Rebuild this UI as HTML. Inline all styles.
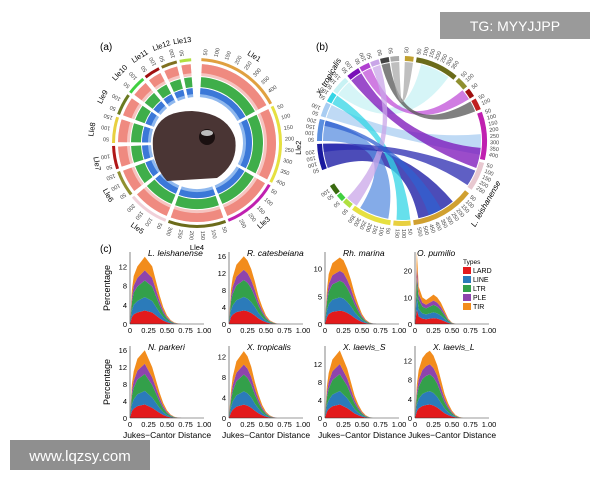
<!DOCTYPE html>
<html><head><meta charset="utf-8"><style>
html,body{margin:0;padding:0;background:#fff;}
svg{display:block;font-family:"Liberation Sans",sans-serif;}
</style></head><body>
<svg id="fig" width="600" height="480" viewBox="0 0 600 480">
<rect width="600" height="480" fill="#fff"/>
<text x="100" y="50" font-size="10">(a)</text>
<text x="316" y="50" font-size="10">(b)</text>
<text x="100" y="252" font-size="10">(c)</text>
<g id="circA"></g>
<g id="circB"></g>
<g id="charts"></g>
<rect x="440" y="12" width="150" height="27" fill="#9a9a9a"/>
<text x="515" y="31" font-size="14" fill="#fff" text-anchor="middle">TG: MYYJJPP</text>
<rect x="10" y="440" width="140" height="30" fill="#8f8f8f"/>
<text x="80" y="461" font-size="15" fill="#fff" text-anchor="middle">www.lqzsy.com</text>
</svg>
<script>
const titles=["L. leishanense","R. catesbeiana","Rh. marina","O. pumilio","N. parkeri","X. tropicalis","X. laevis_S","X. laevis_L"];
const yMaxes=[15,17,13,27,17,14,16,15];
const yTicks=[[0,4,8,12],[0,4,8,12,16],[0,5,10],[0,10,20],[0,4,8,12,16],[0,4,8,12],[0,4,8,12],[0,4,8,12]];
const xBins=[0,0.025,0.05,0.1,0.15,0.2,0.25,0.3,0.35,0.4,0.45,0.5,0.55,0.6,0.65,0.7,0.75];
const totals=[
[0,7,10,12,13,14,13,12,9,6,3.5,1.8,0.8,0.3,0.1,0,0],
[0,8,11,14,15,16,15,13,10,6.5,4,2,0.9,0.4,0.1,0,0],
[0,6,9,11,11.5,12,11.5,10,8,5.5,3.5,1.8,0.8,0.3,0.1,0,0],
[0,27,14,10,9,10,11,10,8,5,2,0.5,0,0,0,0,0],
[0,8,11,14,15,16,14,12,9,6,3.5,1.8,0.8,0.3,0.1,0,0],
[0,5,8,11,12,13,12,10,7,4.5,2.5,1.2,0.5,0.2,0,0,0],
[0,7,10,13,14,15,13,11,8,5,3,1.5,0.6,0.2,0,0,0],
[0,7,10,12.5,13.5,14,13,11,8,5,3,1.5,0.6,0.2,0,0,0]];
const typeNames=["LARD","LINE","LTR","PLE","TIR"];
const typeColors=["#e31a1c","#2b7bba","#33a04a","#8e44ad","#f28c1c"];
const typeShares=[0.2,0.2,0.25,0.15,0.2];
const xTickVals=[0,0.25,0.5,0.75,1];
const xTickLabels=["0","0.25","0.50","0.75","1.00"];
const NS="http://www.w3.org/2000/svg";
function mk(tag,attrs,parent){const e=document.createElementNS(NS,tag);for(const k in attrs)e.setAttribute(k,attrs[k]);parent.appendChild(e);return e;}
const charts=document.getElementById('charts');
const colX=[130,229,325,415], rowBase=[324,418], W=74, H=72;
titles.forEach((t,i)=>{
  const x0=colX[i%4], base=rowBase[Math.floor(i/4)], ym=yMaxes[i];
  const sx=v=>x0+v*W, sy=v=>base-v/ym*H;
  const g=mk('g',{},charts);
  
  
  let cum=xBins.map(()=>0);
  typeShares.forEach((s,k)=>{
    const lo=cum.slice(); cum=cum.map((c,j)=>c+totals[i][j]*s);
    let d='M'+xBins.map((b,j)=>sx(b)+','+sy(cum[j])).join('L');
    for(let j=xBins.length-1;j>=0;j--)d+='L'+sx(xBins[j])+','+sy(lo[j]);
    const p=mk('path',{d:d+'Z',fill:typeColors[k]},g);
    
    
  });
  mk('line',{x1:x0,y1:base,x2:x0+W,y2:base,stroke:'#333','stroke-width':0.6},g);
  mk('line',{x1:x0,y1:base,x2:x0,y2:base-H,stroke:'#333','stroke-width':0.6},g);
  xTickVals.forEach((v,j)=>{const tx=mk('text',{x:sx(v),y:base+9,'font-size':7.5,'text-anchor':'middle'},g);tx.textContent=xTickLabels[j];
    });
  yTicks[i].forEach(v=>{const tx=mk('text',{x:x0-3,y:sy(v)+3,'font-size':7.5,'text-anchor':'end'},g);tx.textContent=v;
    });
  const tt=mk('text',{x:x0+(i==3?2:18),y:base-H+4,'font-size':8.5,'font-style':'italic'},g);tt.textContent=t;
  
  if(i%4==0){const yl=mk('text',{x:0,y:0,'font-size':9,'text-anchor':'middle',transform:`translate(${x0-20},${base-H/2}) rotate(-90)`},g);yl.textContent='Percentage';
    }
  if(i>=4){const xl=mk('text',{x:x0+W/2,y:base+20,'font-size':8.5,'text-anchor':'middle'},g);xl.textContent='Jukes−Cantor Distance';
    }
});
const lg=mk('g',{},charts);


const lt=mk('text',{x:463,y:264,'font-size':6.5},lg);lt.textContent='Types';
typeNames.forEach((n,k)=>{
  const r=mk('rect',{x:463,y:267+k*9,width:8,height:7,fill:typeColors[k]},lg);
  
  const tx=mk('text',{x:473,y:273+k*9,'font-size':7},lg);tx.textContent=n;
  
});
// ---- circos helpers
const D=Math.PI/180;
function pt(cx,cy,r,a){return [cx+r*Math.sin(a*D),cy-r*Math.cos(a*D)];}
function arc(cx,cy,r1,r2,a0,a1){const [x1,y1]=pt(cx,cy,r2,a0),[x2,y2]=pt(cx,cy,r2,a1),[x3,y3]=pt(cx,cy,r1,a1),[x4,y4]=pt(cx,cy,r1,a0);const l=(a1-a0)>180?1:0;
  return `M${x1},${y1}A${r2},${r2} 0 ${l} 1 ${x2},${y2}L${x3},${y3}A${r1},${r1} 0 ${l} 0 ${x4},${y4}Z`;}
function tickNums(g,cx,cy,r,a0,a1,step){let n=50;for(let a=a0+step/2;a<a1;a+=step){const [x,y]=pt(cx,cy,r,a);
  const t=mk('text',{x:0,y:0,'font-size':5.5,fill:'#444','text-anchor':'start',transform:`translate(${x},${y}) rotate(${a-90})`},g);t.textContent=n;n+=50;
  }}
// ---- circos A
const chrA=[["Lle1",3,62,"#e0a040"],["Lle2",64,118,"#e6e040"],["Lle3",120,158,"#c020b0"],["Lle4",160,200,"#6b6b1a"],["Lle5",202,230,"#f0d0d8"],["Lle6",232,250,"#909030"],["Lle7",252,268,"#b01818"],["Lle8",270,288,"#e8d040"],["Lle9",290,305,"#6a7a20"],["Lle10",307,320,"#40d040"],["Lle11",322,333,"#a01010"],["Lle12",335,346,"#807020"],["Lle13",348,356,"#b0e040"]];
const gA=document.getElementById('circA');
const cxA=197,cyA=143;
chrA.forEach(([n,a0,a1,c])=>{
  const p=mk('path',{d:arc(cxA,cyA,82,85,a0,a1),fill:c},gA);
  const rings=[[67,79,'#f6c4c0'],[70,79,'#ef8a80'],[56,66,'#3fae4a'],[46,55,'#8fb8ee'],[49,55,'#3b78d8']];
  rings.forEach(([r1,r2,col])=>{const q=mk('path',{d:arc(cxA,cyA,r1,r2,a0+0.6,a1-0.6),fill:col},gA);});
  tickNums(gA,cxA,cyA,88,a0,a1,7);
  const [lx,ly]=pt(cxA,cyA,104,(a0+a1)/2);
  const lb=mk('text',{x:0,y:0,'font-size':7.5,'text-anchor':'middle',transform:`translate(${lx},${ly+3}) rotate(${((a0+a1)/2+90)%180-90})`},gA);lb.textContent=n;
  
});
const frog=mk('path',{d:`M${cxA-44},${cyA-5} Q${cxA-40},${cyA-32} ${cxA-5},${cyA-32} Q${cxA+30},${cyA-30} ${cxA+38},${cyA-5} Q${cxA+42},${cyA+20} ${cxA+20},${cyA+35} L${cxA-30},${cyA+38} Q${cxA-46},${cyA+20} ${cxA-44},${cyA-5}Z`,fill:'#4a3534'},gA);

const eye=mk('circle',{cx:cxA+10,cy:cyA-6,r:8,fill:'#1a1010'},gA);
const eye2=mk('ellipse',{cx:cxA+10,cy:cyA-10,rx:6,ry:3,fill:'#bbb'},gA);
// ---- circos B
const gB=document.getElementById('circB');
const cxB=402,cyB=141,rB=80;
const segB=[["Lle12",2,8,"#c0a030"],["Lle4",10,40,"#6b6b1a"],["Lle6",42,50,"#909030"],["Lle11",52,58,"#a01010"],["Lle7",60,68,"#c02020"],["Lle3",70,103,"#c020b0"],["Lle5",105,125,"#e8c8d0"],["Lle1",128,172,"#d0a030"],["Lle8",174,186,"#e8d040"],["Lle2",188,216,"#e6e040"],["Lle13",218,224,"#b0e040"],["Lle10",225,230,"#40d040"],["Lle9",231,238,"#3a6a10"],
["Xtr1",250,268,"#1a1a9e"],["Xtr2",270,285,"#5b8fe0"],["Xtr3",287,297,"#a9cdf2"],["Xtr4",298,305,"#33d6e6"],["Xtr5",306,318,"#c8f2f4"],["Xtr6",320,329,"#7a10b8"],["Xtr7",330,337,"#b040d0"],["Xtr8",338,344,"#c9a5e8"],["Xtr9",345,351,"#444"],["Xtr10",352,358,"#aaa"]];
segB.forEach(([n,a0,a1,c])=>{const p=mk('path',{d:arc(cxB,cyB,rB,rB+5,a0,a1),fill:c},gB);
  tickNums(gB,cxB,cyB,rB+8,a0,a1,4);});
const ribbons=[[250,268,140,168,"#1010a0"],[270,285,190,212,"#5b8fe0"],[287,297,85,100,"#a9cdf2"],[298,305,174,184,"#33d6e6"],[306,318,14,36,"#c8f2f4"],[320,329,95,110,"#7a10b8"],[330,337,50,58,"#c050d8"],[338,344,215,224,"#c9a5e8"],[345,351,60,68,"#555"],[352,358,2,8,"#aaa"],[262,268,112,124,"#2a2ab0"],[281,285,150,160,"#3060d0"]];
ribbons.forEach(([a0,a1,b0,b1,c])=>{const r=rB-1;const [x1,y1]=pt(cxB,cyB,r,a0),[x2,y2]=pt(cxB,cyB,r,a1),[x3,y3]=pt(cxB,cyB,r,b0),[x4,y4]=pt(cxB,cyB,r,b1);
  const d=`M${x1},${y1}A${r},${r} 0 0 1 ${x2},${y2}Q${cxB},${cyB} ${x3},${y3}A${r},${r} 0 0 1 ${x4},${y4}Q${cxB},${cyB} ${x1},${y1}Z`;
  const p=mk('path',{d:d,fill:c,opacity:0.75},gB);});
const xt=mk('text',{x:0,y:0,'font-size':8,'font-style':'italic','text-anchor':'middle',transform:`translate(331,78) rotate(-60)`},gB);xt.textContent='X. tropicalis';

const ll=mk('text',{x:0,y:0,'font-size':8,'font-style':'italic','text-anchor':'middle',transform:`translate(488,205) rotate(-60)`},gB);ll.textContent='L. leishanense';

</script>
</body></html>
